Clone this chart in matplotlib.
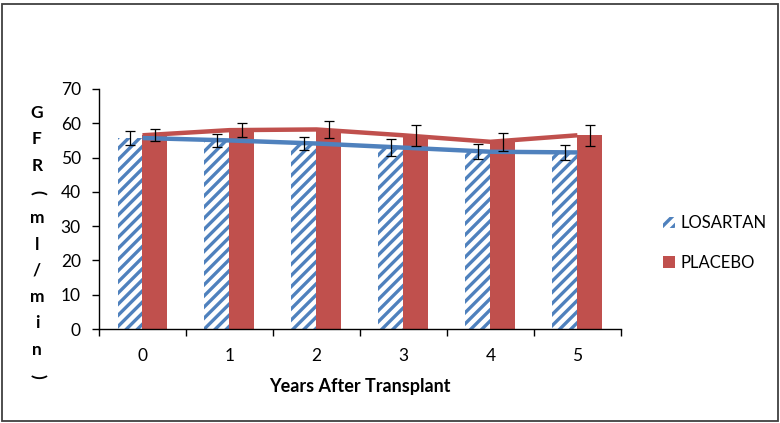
import numpy as np
import matplotlib.pyplot as plt
from matplotlib.patches import Rectangle, Patch

plt.rcParams['font.family'] = ['Lato', 'DejaVu Sans']
plt.rcParams['hatch.linewidth'] = 2.4

# --- data -------------------------------------------
years = ['0', '1', '2', '3', '4', '5']
losartan = [55.7, 55.0, 54.1, 52.9, 51.7, 51.5]
placebo = [56.5, 58.0, 58.2, 56.5, 54.6, 56.5]
los_err = [2.1, 2.0, 1.9, 2.4, 2.2, 2.3]
pla_err = [1.7, 2.1, 2.6, 3.0, 2.6, 3.0]

blue = '#4F81BD'
red = '#C0504D'

fig = plt.figure(figsize=(7.8, 4.23), dpi=100)
ax = fig.add_axes([0.1269, 0.2222, 0.796 - 0.1269, 0.7896 - 0.2222])

x = np.arange(len(years))
w = 0.287

# bars
ax.bar(x - w / 2, losartan, w, facecolor='white', edgecolor=blue,
       hatch='///', linewidth=0, zorder=2)
ax.bar(x + w / 2, placebo, w, color=red, linewidth=0, zorder=2)

# trend lines
ax.plot(x, placebo, color=red, lw=3.2, solid_capstyle='butt', zorder=3)
ax.plot(x, losartan, color=blue, lw=3.2, solid_capstyle='butt', zorder=3)

# error bars
ax.errorbar(x - w / 2, losartan, yerr=los_err, fmt='none', ecolor='black',
            elinewidth=0.9, capsize=3.5, capthick=0.9, zorder=4)
ax.errorbar(x + w / 2, placebo, yerr=pla_err, fmt='none', ecolor='black',
            elinewidth=0.9, capsize=3.5, capthick=0.9, zorder=4)

ax.set_xlim(-0.5, len(years) - 0.5)
ax.set_ylim(0, 70)
ax.set_yticks(range(0, 71, 10))
ax.set_xticks(np.arange(-0.5, len(years), 1.0))
ax.set_xticklabels([])
ax.set_xticks(x, minor=True)
ax.set_xticklabels(years, minor=True)
ax.tick_params(axis='x', which='minor', length=0, pad=14, labelsize=12.5)
ax.tick_params(axis='x', which='major', length=5, direction='out', width=1)
ax.tick_params(axis='y', length=5, width=1, labelsize=12.5, pad=8)
for s in ['top', 'right']:
    ax.spines[s].set_visible(False)
for s in ['left', 'bottom']:
    ax.spines[s].set_color('black')
    ax.spines[s].set_linewidth(1)

ax.set_xlabel('Years After Transplant', fontsize=13, fontweight='bold',
              labelpad=10)

# stacked y label
ylabel = 'GFR(ml/min)'
for i, ch in enumerate(ylabel):
    ypix = 113 + i * 26.3
    rot = -90 if ch in '()' else 0
    fig.text(37 / 780, 1 - ypix / 423, ch, ha='center', va='center',
             fontsize=12.5, fontweight='bold', rotation=rot)

# legend
handles = [Patch(facecolor='white', edgecolor=blue, hatch='///', linewidth=0),
           Patch(facecolor=red, linewidth=0)]
fig.legend(handles, ['LOSARTAN', 'PLACEBO'], loc='center left',
           bbox_to_anchor=(648 / 780, 1 - 243 / 423), frameon=False,
           fontsize=12, handlelength=0.7, handleheight=0.7,
           handletextpad=0.35, labelspacing=1.4)

# outer chart border
fig.patches.append(Rectangle((0.002, 0.0047), 0.9955, 0.9858,
                             transform=fig.transFigure, fill=False,
                             edgecolor='#404040', linewidth=1.3))

fig.savefig('out.png', dpi=100)
